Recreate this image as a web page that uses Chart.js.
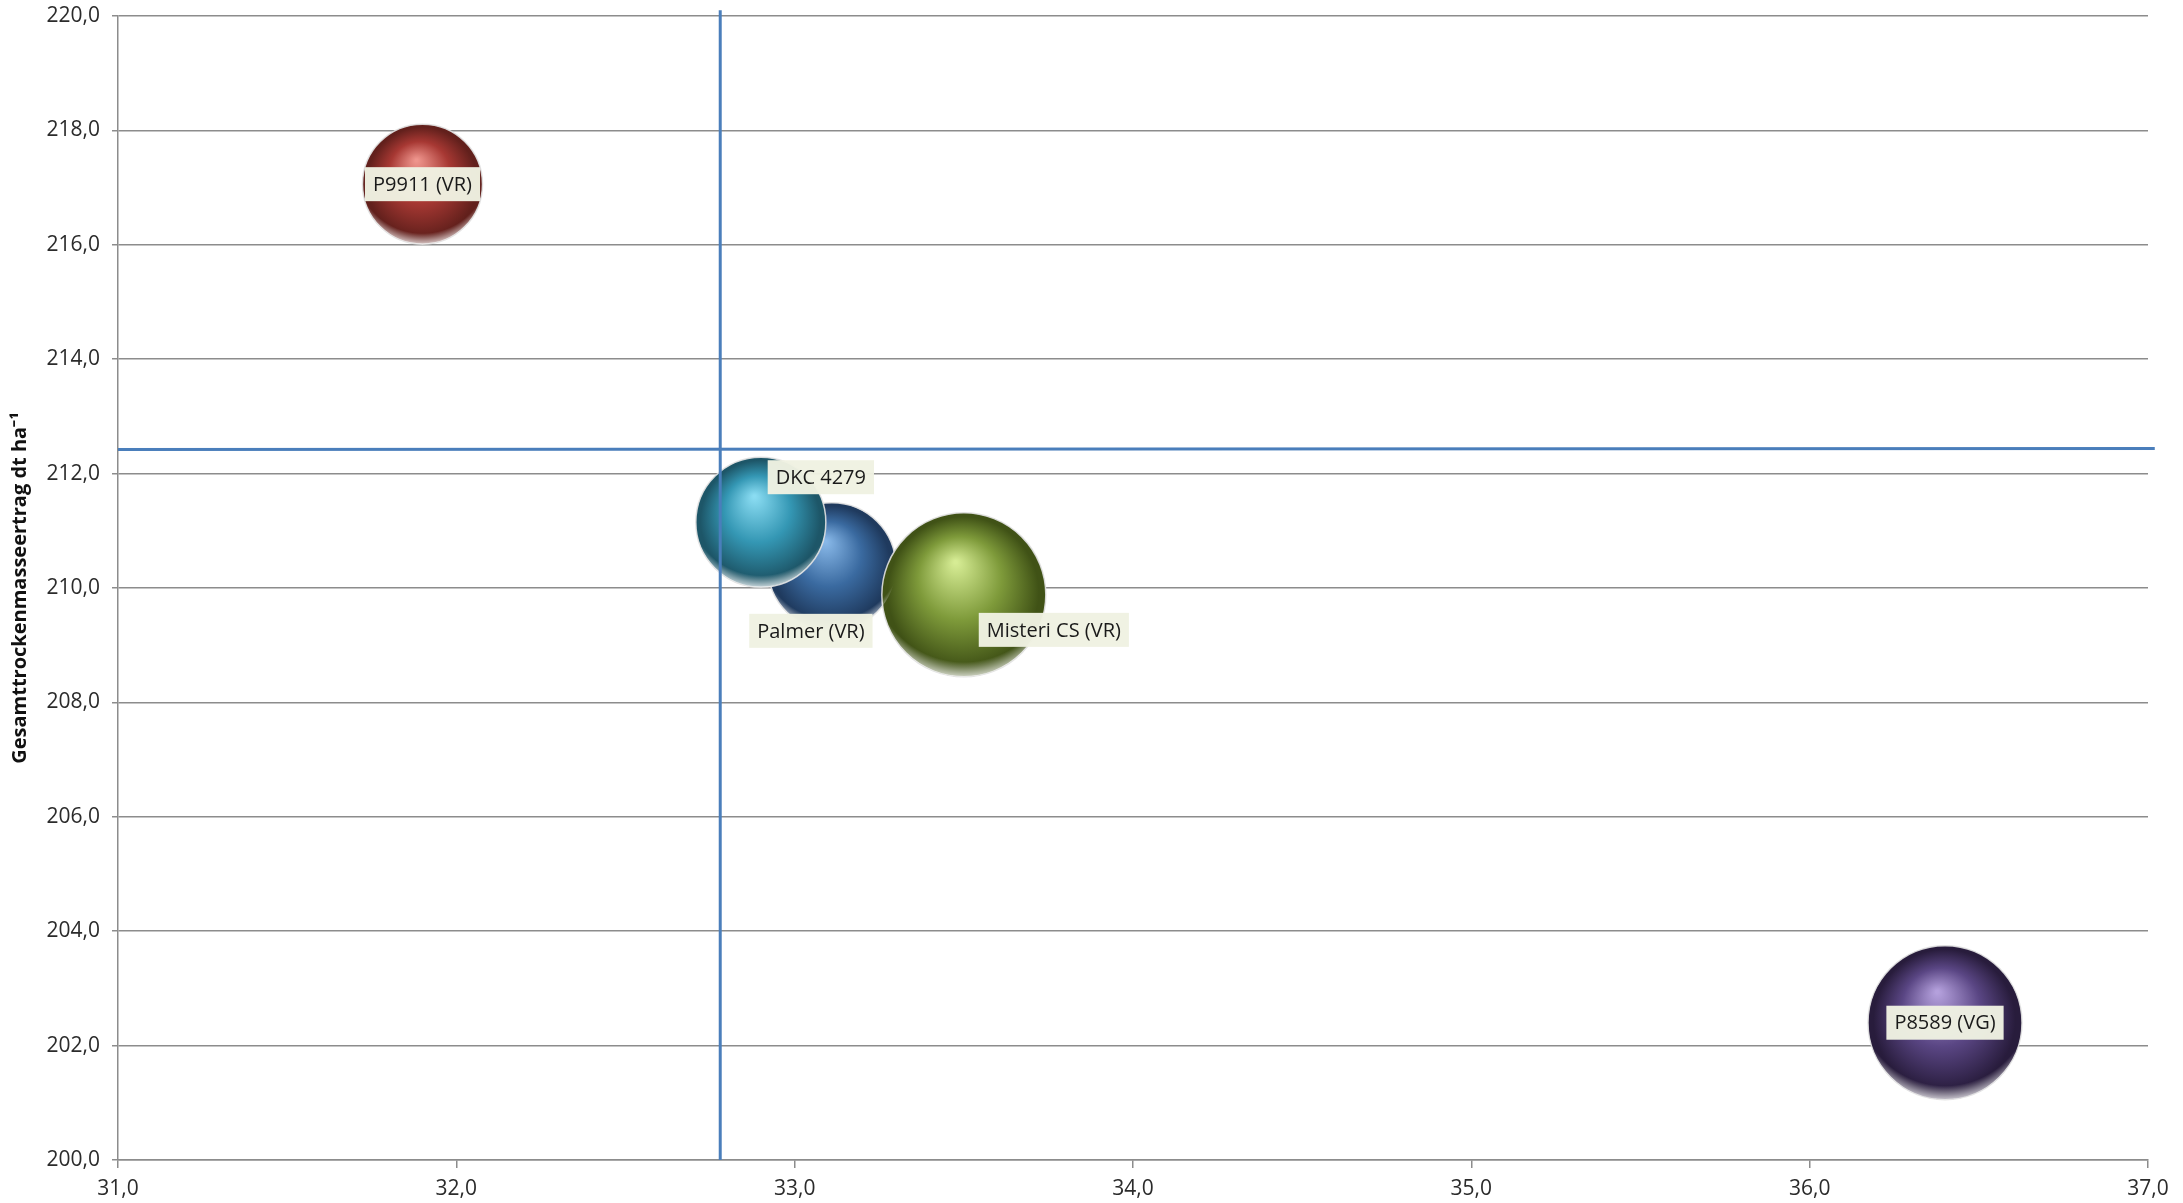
<!DOCTYPE html>
<html>
<head>
<meta charset="utf-8">
<script src="https://cdn.jsdelivr.net/npm/chart.js@4"></script>
<style>
  html, body { margin: 0; padding: 0; background: #fff; }
  #wrap { width: 2183px; height: 1203px; position: relative; }
</style>
</head>
<body>
<div id="wrap"><canvas id="myChart"></canvas></div>
<script>
// Sorten (Bubble), Reihenfolge = Zeichenreihenfolge
const varieties = ['P9911 (VR)', 'Palmer (VR)', 'DKC 4279', 'Misteri CS (VR)', 'P8589 (VG)'];
const xValues = [31.90, 33.11, 32.90, 33.50, 36.40];
const yValues = [217.06, 210.37, 211.15, 209.88, 202.40];
const bubbleSize = [60, 64, 65, 82, 77];

// Mittelwertlinien
const meanX = 32.78;
const meanY = 212.42;

const xTicks = [31, 32, 33, 34, 35, 36, 37];
const yTicks = [200, 202, 204, 206, 208, 210, 212, 214, 216, 218, 220];

const yTitle = 'Gesamttrockenmasseertrag dt ha\u207B\u00B9';

// colours: highlight, base, edge
const sphereColors = [
    ['#ee948c', '#a73833', '#62201c'],
    ['#88b8e8', '#3a6aa0', '#1f3a5e'],
    ['#8adcf2', '#3497b4', '#1d5668'],
    ['#d6ec94', '#7e9a3a', '#405216'],
    ['#b4a0dc', '#5a4684', '#281c3c']
];
const labelOffsets = [[0, 0], [-21, 64], [60, -45], [90, 35], [0, 0]];

const fmt = v => v.toFixed(1).replace('.', ',');

const bubbleData = varieties.map((n, i) => ({ x: xValues[i], y: yValues[i], r: bubbleSize[i] }));

function sphereFill(ctx) {
    if (ctx.type !== 'data') return sphereColors[0][1];
    const chart = ctx.chart;
    const i = ctx.dataIndex;
    const c = sphereColors[i];
    if (!chart.scales.x || !chart.scales.y) return c[1];
    const cx = chart.scales.x.getPixelForValue(xValues[i]);
    const cy = chart.scales.y.getPixelForValue(yValues[i]);
    if (!isFinite(cx) || !isFinite(cy)) return c[1];
    const r = bubbleSize[i];
    const g = chart.ctx.createRadialGradient(cx - r * 0.1, cy - r * 0.4, r * 0.02, cx, cy, r);
    g.addColorStop(0, c[0]);
    g.addColorStop(0.5, c[1]);
    g.addColorStop(0.92, c[2]);
    g.addColorStop(1, c[2]);
    return g;
}

// helle Kante unten (Glanz-Effekt)
const rimPlugin = {
    id: 'rim',
    afterDatasetDraw(chart, args) {
        if (args.index !== 0) return;
        const c = chart.ctx;
        args.meta.data.forEach((el, i) => {
            const r = bubbleSize[i];
            c.save();
            c.beginPath();
            c.arc(el.x, el.y, r, 0, Math.PI * 2);
            c.clip();
            const g = c.createRadialGradient(el.x, el.y - r * 0.3, 0, el.x, el.y - r * 0.3, r * 1.3);
            g.addColorStop(0, 'rgba(255,255,255,0)');
            g.addColorStop(0.86, 'rgba(255,255,255,0)');
            g.addColorStop(1, 'rgba(255,255,255,0.75)');
            c.fillStyle = g;
            c.fillRect(el.x - r, el.y - r, r * 2, r * 2);
            c.restore();
        });
    }
};

const labelPlugin = {
    id: 'bubbleLabels',
    afterDraw(chart) {
        const meta = chart.getDatasetMeta(0);
        const c = chart.ctx;
        c.save();
        c.font = '20px "Open Sans", sans-serif';
        c.textAlign = 'center';
        c.textBaseline = 'middle';
        meta.data.forEach((el, i) => {
            const tx = el.x + labelOffsets[i][0];
            const ty = el.y + labelOffsets[i][1];
            const w = c.measureText(varieties[i]).width + 16;
            const h = 34;
            c.fillStyle = 'rgba(240,242,226,0.97)';
            c.fillRect(tx - w / 2, ty - h / 2, w, h);
            c.fillStyle = '#1a1a1a';
            c.fillText(varieties[i], tx, ty + 1);
        });
        c.restore();
    }
};

const ctx = document.getElementById('myChart').getContext('2d');
const myChart = new Chart(ctx, {
    type: 'bubble',
    data: {
        datasets: [{
            label: 'Sorten',
            data: bubbleData,
            backgroundColor: sphereFill,
            borderColor: 'rgba(225,225,225,0.9)',
            borderWidth: 1.5,
            hoverBorderWidth: 1.5,
            order: 2
        }, {
            type: 'line',
            label: 'Mittel y',
            data: [{ x: 31, y: meanY }, { x: 37.02, y: meanY + 0.02 }],
            borderColor: '#4a7ebb',
            borderWidth: 3,
            pointRadius: 0,
            clip: false,
            order: 1
        }, {
            type: 'line',
            label: 'Mittel x',
            data: [{ x: meanX, y: 200 }, { x: meanX, y: 220.1 }],
            borderColor: '#4a7ebb',
            borderWidth: 3,
            pointRadius: 0,
            clip: false,
            order: 1
        }]
    },
    options: {
        responsive: true,
        maintainAspectRatio: false,
        animation: false,
        layout: { autoPadding: false, padding: { top: 16, right: 35, left: 0, bottom: 0 } },
        plugins: {
            legend: { display: false },
            tooltip: { enabled: false }
        },
        scales: {
            x: {
                type: 'linear',
                min: 31,
                max: 37,
                afterBuildTicks: s => { s.ticks = xTicks.map(v => ({ value: v })); },
                afterFit: s => { s.height = 43; },
                grid: { drawOnChartArea: false, tickLength: 8, color: '#8c8c8c', lineWidth: 1.5 },
                border: { color: '#8c8c8c', width: 1.5 },
                ticks: {
                    callback: v => fmt(v),
                    padding: 8,
                    color: '#2b2b2b',
                    font: { family: '"Open Sans", sans-serif', size: 21 },
                    maxRotation: 0
                }
            },
            y: {
                type: 'linear',
                min: 200,
                max: 220,
                afterBuildTicks: s => { s.ticks = yTicks.map(v => ({ value: v })); },
                afterFit: s => { s.width = 118; s.paddingTop = 0; s.paddingBottom = 0; },
                grid: { tickLength: 6, color: '#8c8c8c', lineWidth: 1.5 },
                border: { color: '#8c8c8c', width: 1.5 },
                ticks: {
                    callback: v => fmt(v),
                    padding: 12,
                    color: '#2b2b2b',
                    font: { family: '"Open Sans", sans-serif', size: 21 }
                },
                title: {
                    display: true,
                    text: yTitle,
                    color: '#111',
                    font: { family: '"Open Sans", sans-serif', size: 20, weight: 'bold' },
                    padding: { top: 8, bottom: 0 }
                }
            }
        }
    },
    plugins: [rimPlugin, labelPlugin]
});
myChart.update();
</script>
</body>
</html>
